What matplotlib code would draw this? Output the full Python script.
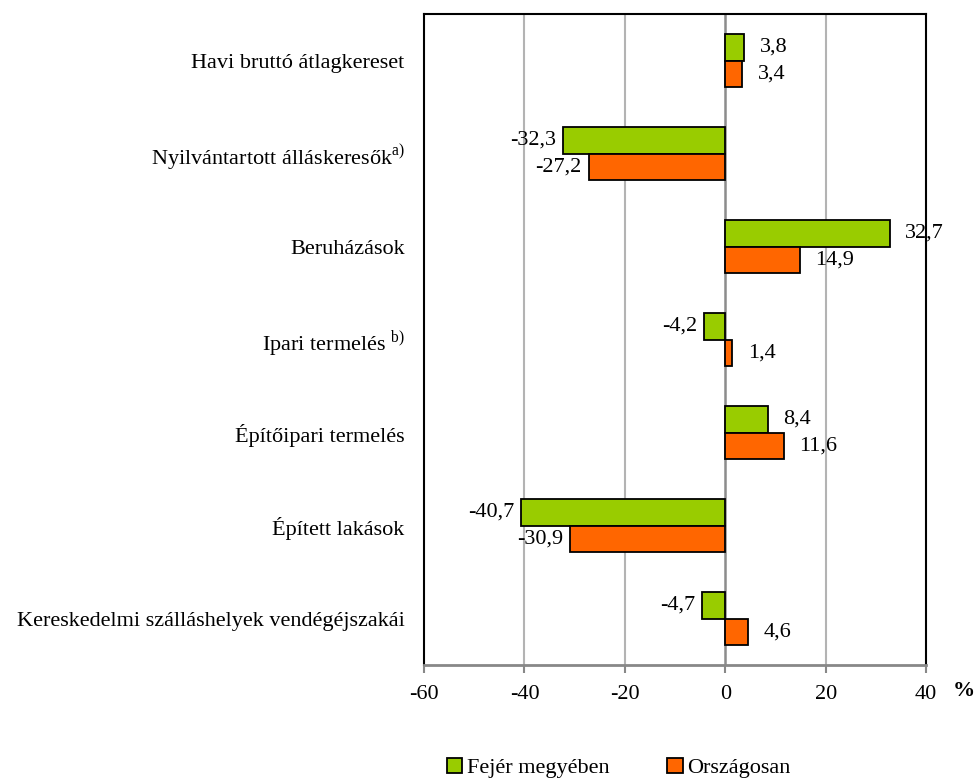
import matplotlib
matplotlib.use("Agg")
import matplotlib.pyplot as plt
import numpy as np

categories = ["Havi bruttó átlagkereset",
              r"Nyilvántartott álláskeresők$^{\mathrm{a)}}$",
              "Beruházások",
              r"Ipari termelés $^{\mathrm{b)}}$",
              "Építőipari termelés",
              "Épített lakások",
              "Kereskedelmi szálláshelyek vendégéjszakái"]
fejer = [3.8, -32.3, 32.7, -4.2, 8.4, -40.7, -4.7]
orszag = [3.4, -27.2, 14.9, 1.4, 11.6, -30.9, 4.6]
series_names = ["Fejér megyében", "Országosan"]
colors = ["#99CC00", "#FF6600"]

plt.rcParams['font.family'] = ['Liberation Serif', 'DejaVu Serif']
plt.rcParams['mathtext.fontset'] = 'custom'
plt.rcParams['mathtext.rm'] = 'Liberation Serif'

fig = plt.figure(figsize=(9.77, 7.78), dpi=100)
ax = fig.add_axes([0.434, 0.145, 0.514, 0.837])

fs = 16
y = np.arange(len(categories))
h = 0.285
for vals, off, col, name in [(fejer, -h / 2, colors[0], series_names[0]),
                             (orszag, h / 2, colors[1], series_names[1])]:
    ax.barh(y + off, vals, height=h, color=col, edgecolor='black',
            linewidth=1.3, label=name, zorder=3)
    for yi, v in zip(y, vals):
        txt = f"{v:.1f}".replace('.', ',')
        if v >= 0:
            ax.annotate(txt, (v, yi + off), xytext=(11, 0), textcoords='offset points',
                        ha='left', va='center', fontsize=fs, zorder=4)
        else:
            ax.annotate(txt, (v, yi + off), xytext=(-5, 0), textcoords='offset points',
                        ha='right', va='center', fontsize=fs, zorder=4)

ax.set_xlim(-60, 40)
ax.set_ylim(len(categories) - 0.5, -0.5)
ax.set_xticks([-60, -40, -20, 0, 20, 40])
ax.set_xticklabels(['-60', '-40', '-20', '0', '20', '40'], fontsize=fs)
ax.set_yticks(y)
ax.set_yticklabels(categories, fontsize=fs)
ax.tick_params(axis='y', length=0, pad=14)
ax.tick_params(axis='x', length=6, width=1.5, color='#888888', pad=8, direction='out')

for gx in [-40, -20, 20]:
    ax.axvline(gx, color='#b3b3b3', linewidth=1.5, zorder=1)
ax.axvline(0, color='#8c8c8c', linewidth=1.8, zorder=2)

for s in ['left', 'right', 'top']:
    ax.spines[s].set_color('black')
    ax.spines[s].set_linewidth(1.5)
ax.spines['bottom'].set_color('#888888')
ax.spines['bottom'].set_linewidth(2)

fig.text(0.998, 0.112, '%', fontsize=16, fontweight='bold', ha='right', va='center')

leg = fig.legend(loc='center', bbox_to_anchor=(0.633, 0.013), ncol=2, frameon=False,
                 fontsize=16, handlelength=0.7, handleheight=0.7, handletextpad=0.2,
                 columnspacing=2.6)

fig.savefig('out.png', dpi=100)
